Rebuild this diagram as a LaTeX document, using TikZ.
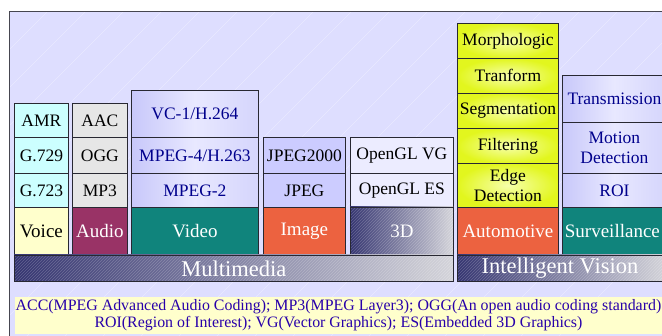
\documentclass[tikz,border=0pt]{standalone}
\usepackage{fontspec}
\setmainfont{Liberation Serif}

\definecolor{bglav}{RGB}{222,222,255}
\definecolor{frameline}{RGB}{70,70,80}
\definecolor{cellline}{RGB}{40,40,50}
\definecolor{cyanlight}{RGB}{204,255,255}
\definecolor{yellowlight}{RGB}{255,255,204}
\definecolor{graylight}{RGB}{230,230,230}
\definecolor{maroon}{RGB}{153,51,102}
\definecolor{tealbox}{RGB}{16,132,124}
\definecolor{orangebox}{RGB}{236,98,64}
\definecolor{lavdeep}{RGB}{200,200,250}
\definecolor{lavmid}{RGB}{232,232,255}
\definecolor{lavjpeg}{RGB}{204,204,255}
\definecolor{lavpale}{RGB}{236,236,255}
\definecolor{ygreen}{RGB}{226,246,30}
\definecolor{ypale}{RGB}{246,255,170}
\definecolor{navytext}{RGB}{0,0,140}
\definecolor{notetext}{RGB}{40,0,170}
\definecolor{barleft}{RGB}{52,52,112}
\definecolor{barright}{RGB}{212,212,218}

\tikzset{
  cell/.style={draw=cellline, line width=0.8pt, inner sep=1pt, anchor=north west,
    font=\fontsize{17.5}{20}\selectfont, align=center},
  cyancell/.style={cell, fill=cyanlight},
  graycell/.style={cell, fill=graylight},
  lavcell/.style={cell, left color=lavdeep, right color=lavdeep!60!lavmid, middle color=lavmid, text=navytext},
  jpegcell/.style={cell, fill=lavjpeg},
  palecell/.style={cell, fill=lavpale},
  yelcell/.style={cell, shading=radial, inner color=ypale, outer color=ygreen},
  basecell/.style={cell, text=white, font=\fontsize{19}{20}\selectfont},
  barcell/.style={cell, text=white, font=\fontsize{22.5}{23}\selectfont},
  hatchline/.style={white, line width=0.5pt, opacity=0.22},
  bgline/.style={white, line width=0.6pt, opacity=0.35}
}

% one rectangular cell: name, x, y (top left), width, height, style, text
\newcommand\cellat[7]{\node[#6, minimum width=#4pt, minimum height=#5pt] (#1) at (#2,#3) {#7};}

% a cell with a navy-to-grey gradient under fine diagonal hatching
\newcommand\hatchcell[7]{%
  \shade[left color=barleft, right color=barright] (#2,#3) rectangle (#2+#4,#3+#5);
  \begin{scope}
    \clip (#2,#3) rectangle (#2+#4,#3+#5);
    \foreach \k in {0,3,...,480} {
      \draw[hatchline] (#2-#5+\k,#3+#5) -- ++(#5,-#5);
    }
  \end{scope}
  \node[#6, minimum width=#4pt, minimum height=#5pt] (#1) at (#2,#3) {#7};}

\begin{document}
\begin{tikzpicture}[x=1pt, y=-1pt]
\useasboundingbox (0,0) rectangle (662,336);
\fill[white] (0,0) rectangle (662,336);

\begin{scope}
\clip (0,0) rectangle (662,336);
% lavender panel with faint diagonal streaks
\fill[bglav] (9,12) rectangle (680,350);
\foreach \k in {0,...,22} {
  \draw[bgline] (9+38*\k-300,350) -- (9+38*\k+38,12);
}
\draw[frameline, line width=1pt] (9,350) -- (9,12) -- (680,12);

% Voice
\cellat{amr}{14}{103}{54}{34}{cyancell}{AMR}
\cellat{g729}{14}{137}{54}{36}{cyancell}{G.729}
\cellat{g723}{14}{173}{54}{34}{cyancell}{G.723}
\cellat{voice}{14}{207}{54}{48}{basecell, fill=yellowlight, text=black}{Voice}

% Audio
\cellat{aac}{72}{103}{55}{34}{graycell}{AAC}
\cellat{ogg}{72}{137}{55}{36}{graycell}{OGG}
\cellat{mp3}{72}{173}{55}{34}{graycell}{MP3}
\cellat{audio}{72}{207}{55}{48}{basecell, fill=maroon}{Audio}

% Video
\cellat{vc1}{131}{90}{127}{47}{lavcell}{VC-1/H.264}
\cellat{mpeg4}{131}{137}{127}{36}{lavcell}{MPEG-4/H.263}
\cellat{mpeg2}{131}{173}{127}{34}{lavcell}{MPEG-2}
\cellat{video}{131}{207}{127}{48}{basecell, fill=tealbox}{Video}

% Image
\cellat{jp2k}{263}{137}{82}{36}{jpegcell}{JPEG2000}
\cellat{jpeg}{263}{173}{82}{34}{jpegcell}{JPEG}
\cellat{image}{263}{207}{82}{48}{basecell, fill=orangebox}{Image}

% 3D
\cellat{glvg}{350}{137}{103}{36}{palecell}{OpenGL VG}
\cellat{gles}{350}{173}{103}{34}{palecell}{OpenGL ES}
\hatchcell{threed}{350}{207}{103}{48}{basecell}{3D}

% Automotive
\cellat{morph}{457}{23}{101}{35}{yelcell}{Morphologic}
\cellat{tranf}{457}{58}{101}{35}{yelcell}{Tranform}
\cellat{segm}{457}{93}{101}{35}{yelcell}{Segmentation}
\cellat{filt}{457}{128}{101}{35}{yelcell}{Filtering}
\cellat{edge}{457}{163}{101}{44}{yelcell}{Edge\\Detection}
\cellat{auto}{457}{207}{101}{48}{basecell, fill=orangebox}{Automotive}

% Surveillance
\cellat{trans}{562}{75}{104}{47}{lavcell}{Transmission}
\cellat{motion}{562}{122}{104}{51}{lavcell}{Motion\\Detection}
\cellat{roi}{562}{173}{104}{34}{lavcell}{ROI}
\cellat{surv}{562}{207}{104}{48}{basecell, fill=tealbox}{\hspace*{-4pt}Surveillance}

% group bars
\hatchcell{multimedia}{14}{255}{439}{26}{barcell}{Multimedia}
\hatchcell{vision}{457}{255}{209}{26}{barcell}{\hspace*{-4pt}Intelligent Vision}

% abbreviations
\fill[yellowlight] (15,297) rectangle (680,334);
\node[text=notetext, font=\fontsize{15.9}{17}\selectfont, align=center, inner sep=0pt]
  (notes) at (338.5,315.5)
  {ACC(MPEG Advanced Audio Coding); MP3(MPEG Layer3); OGG(An open audio coding standard)\\
   ROI(Region of Interest); VG(Vector Graphics); ES(Embedded 3D Graphics)};
\end{scope}
\end{tikzpicture}
\end{document}
